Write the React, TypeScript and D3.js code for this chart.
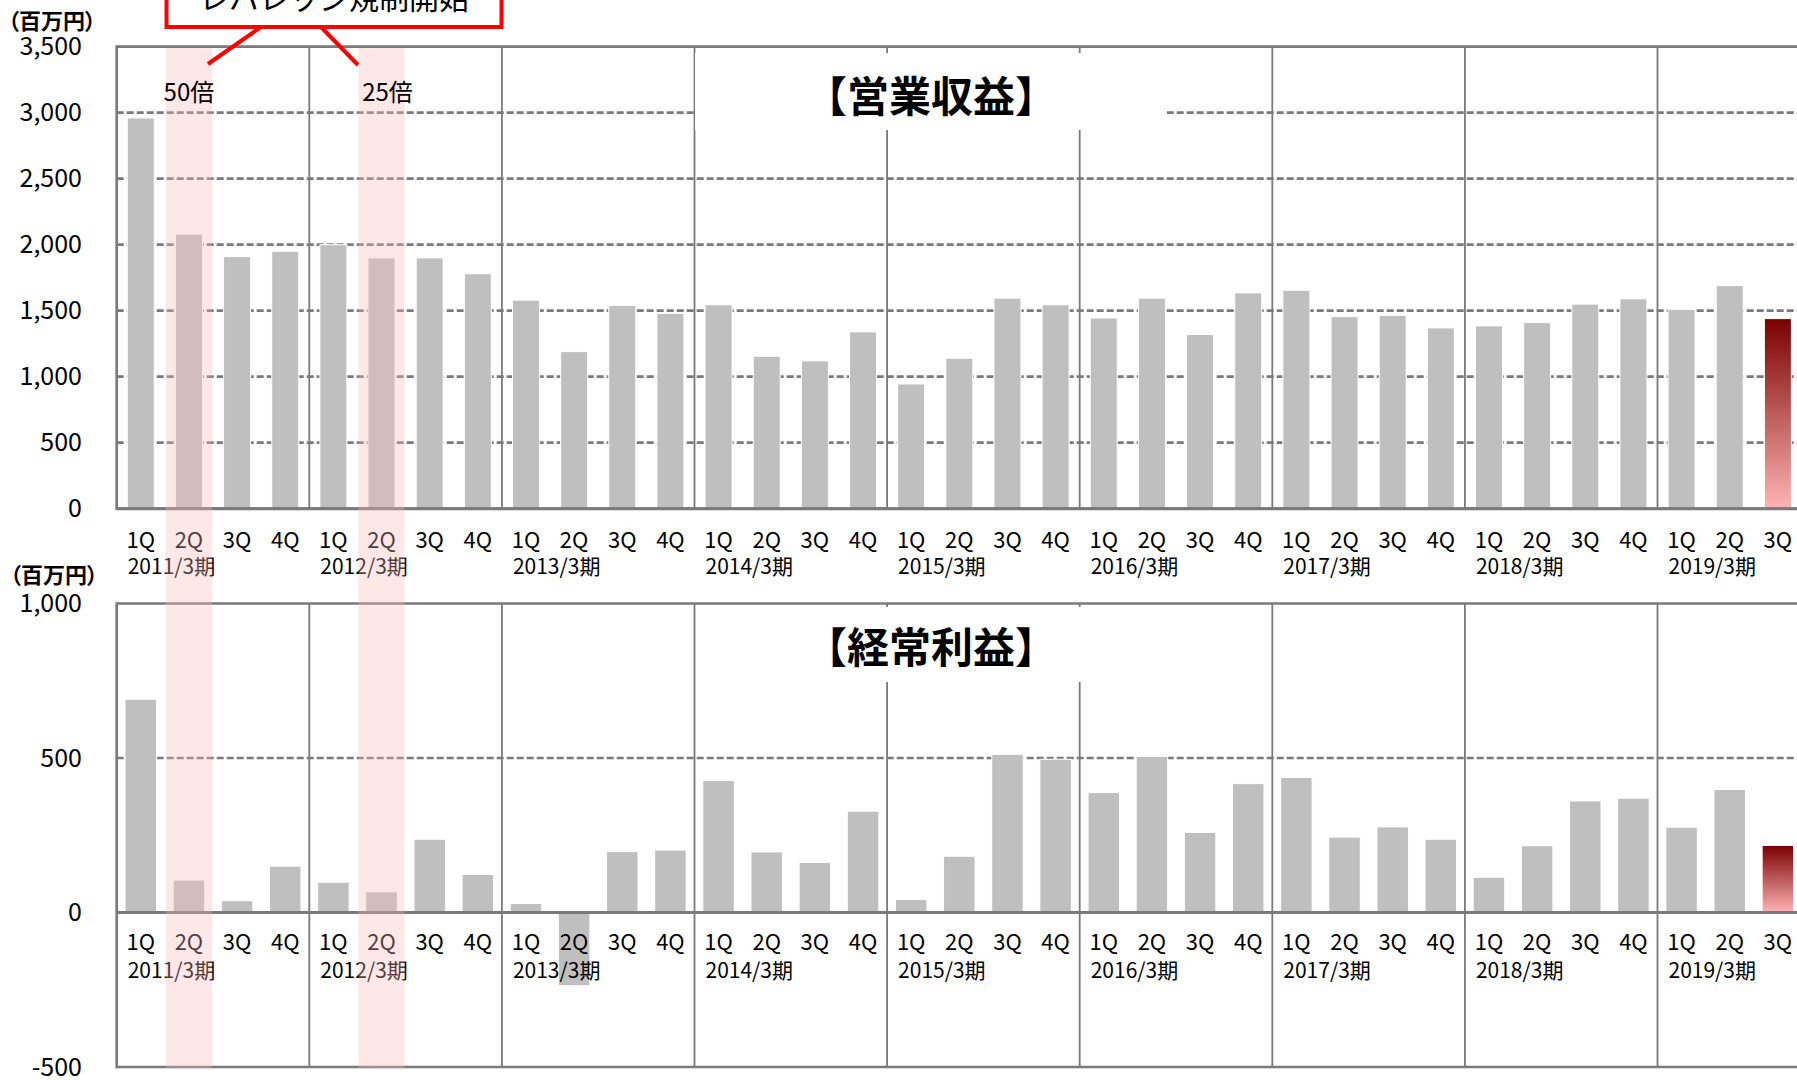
import React from 'react';
import * as d3 from 'd3';

const years = ['2011/3期', '2012/3期', '2013/3期', '2014/3期', '2015/3期', '2016/3期', '2017/3期', '2018/3期', '2019/3期'];
const quarters = ['1Q', '2Q', '3Q', '4Q'];

// 営業収益 (百万円)
const revenue = [
  2960, 2080, 1910, 1950,
  2000, 1900, 1900, 1780,
  1580, 1190, 1540, 1480,
  1545, 1155, 1120, 1340,
  945, 1140, 1595, 1545,
  1445, 1595, 1320, 1635,
  1655, 1455, 1465, 1370,
  1385, 1410, 1550, 1590,
  1510, 1690, 1440,
];

// 経常利益 (百万円)
const ordinary = [
  690, 105, 38, 150,
  98, 67, 237, 123,
  29, -237, 197, 202,
  427, 196, 162, 328,
  42, 182, 512, 496,
  388, 505, 259, 417,
  437, 244, 277, 237,
  114, 216, 361, 370,
  276, 398, 217,
];

const revenueTicks = [0, 500, 1000, 1500, 2000, 2500, 3000, 3500];
const ordinaryTicks = [-500, 0, 500, 1000];
const highlightIdx = [1, 5];
const highlightLabels = ['50倍', '25倍'];
const calloutText = 'レバレッジ規制開始';
const unitLabel = '（百万円）';
const titleTop = '【営業収益】';
const titleBottom = '【経常利益】';

const W = 1797;
const H = 1080;
const FONT = '"Noto Sans CJK JP", "Noto Sans", sans-serif';
const GRID = '#7A7A7A';
const BAR = '#BFBFBF';

const fmt = d3.formatLocale({ decimal: '.', thousands: ',', grouping: [3], currency: ['', ''], minus: '-' }).format(',');

export default function App() {
  const nSlots = years.length * 4;
  const slotKeys = d3.range(nSlots).map(String);
  const left = 116.7;
  const step = 48.15;
  const x = d3.scaleBand<string>().domain(slotKeys).range([left, left + nSlots * step]).padding(0);
  const cx = (i: number) => (x(String(i)) as number) + x.bandwidth() / 2;

  const yTop = d3.scaleLinear().domain([0, 3500]).range([508.7, 46.7]);
  const yBot = d3.scaleLinear().domain([-500, 1000]).range([1067, 603.5]);

  const topBarW = 27;
  const botBarW = 31.5;
  const lastIdx = revenue.length - 1;

  const renderPanel = (
    key: string,
    y: d3.ScaleLinear<number, number>,
    values: number[],
    ticks: number[],
    gridTicks: number[],
    barW: number,
    qLabelY: number,
    yearLabelY: number,
    title: string,
    titleY: number,
    box: [number, number, number, number],
  ) => {
    const [d0, d1] = y.domain();
    const yTopEdge = y(d1);
    const yBottomEdge = y(d0);
    const y0 = y(0);
    return (
      <g key={key}>
        {gridTicks.map((t) => (
          <line key={'g' + t} x1={left} x2={W} y1={y(t)} y2={y(t)} stroke={GRID} strokeWidth={2.7} strokeDasharray="7,3" />
        ))}
        {years.map((_, yi) =>
          yi === 0 ? null : (
            <line key={'d' + yi} x1={x(String(yi * 4))} x2={x(String(yi * 4))} y1={yTopEdge} y2={yBottomEdge} stroke={GRID} strokeWidth={1.8} />
          ),
        )}
        <rect x={box[0]} y={box[1]} width={box[2]} height={box[3]} fill="#fff" />
        <text x={931} y={titleY} textAnchor="middle" dominantBaseline="central" fontFamily={FONT} fontSize={42} fontWeight={700} fill="#000">
          {title}
        </text>
        {values.map((v, i) => (
          <rect
            key={'b' + i}
            x={cx(i) - barW / 2}
            y={Math.min(y(v), y0)}
            width={barW}
            height={Math.abs(y(v) - y0)}
            fill={i === lastIdx ? `url(#redGrad)` : BAR}
            stroke="#fff"
            strokeWidth={1}
          />
        ))}
        <line x1={left} x2={W} y1={yTopEdge} y2={yTopEdge} stroke={GRID} strokeWidth={2.7} />
        <line x1={left} x2={W} y1={yBottomEdge} y2={yBottomEdge} stroke={GRID} strokeWidth={2.7} />
        <line x1={left} x2={W} y1={y0} y2={y0} stroke={GRID} strokeWidth={3} />
        <line x1={left} x2={left} y1={yTopEdge - 1.3} y2={yBottomEdge + 1.3} stroke={GRID} strokeWidth={2.7} />
        {ticks.map((t) => (
          <text key={'t' + t} x={82} y={y(t) - 2.5} textAnchor="end" dominantBaseline="central" fontFamily={FONT} fontSize={25} fill="#000">
            {fmt(t)}
          </text>
        ))}
        {slotKeys.map((k, i) =>
          i <= lastIdx ? (
            <text key={'q' + i} x={cx(i)} y={qLabelY} textAnchor="middle" dominantBaseline="central" fontFamily={FONT} fontSize={22} fill="#000">
              {quarters[i % 4]}
            </text>
          ) : null,
        )}
        {years.map((yr, yi) => (
          <text key={'y' + yi} x={(x(String(yi * 4)) as number) + 11} y={yearLabelY} textAnchor="start" dominantBaseline="central" fontFamily={FONT} fontSize={21} fill="#000">
            {yr}
          </text>
        ))}
      </g>
    );
  };

  return (
    <svg width={W} height={H} style={{ position: 'absolute', left: 0, top: 0, background: '#fff' }} xmlns="http://www.w3.org/2000/svg">
      <defs>
        <linearGradient id="redGrad" x1="0" y1="0" x2="0" y2="1">
          <stop offset="0" stopColor="#7A0000" />
          <stop offset="1" stopColor="#FFB4B4" />
        </linearGradient>
      </defs>
      <rect x={0} y={0} width={W} height={H} fill="#fff" />

      {renderPanel('top', yTop, revenue, revenueTicks, [500, 1000, 1500, 2000, 2500, 3000], topBarW, 538, 564.5, titleTop, 93, [695, 53, 472, 77])}
      {renderPanel('bot', yBot, ordinary, ordinaryTicks, [500], botBarW, 939.5, 968.5, titleBottom, 644, [760, 607, 400, 75])}

      <text x={8} y={19} dominantBaseline="central" fontFamily={FONT} fontSize={22} fontWeight={700} fill="#000" style={{ fontFeatureSettings: '"palt"' }}>
        {unitLabel}
      </text>
      <text x={10} y={573} dominantBaseline="central" fontFamily={FONT} fontSize={22} fontWeight={700} fill="#000" style={{ fontFeatureSettings: '"palt"' }}>
        {unitLabel}
      </text>

      {highlightIdx.map((i) => (
        <rect key={'h' + i} x={cx(i) - 23} y={yTop(3500) + 1.5} width={46} height={yBot(-500) - yTop(3500)} fill="rgb(249,182,182)" fillOpacity={0.33} />
      ))}

      {highlightIdx.map((i, k) => (
        <text key={'hl' + i} x={cx(i) + (k === 0 ? 0 : 6)} y={90} textAnchor="middle" dominantBaseline="central" fontFamily={FONT} fontSize={24} fill="#000">
          {highlightLabels[k]}
        </text>
      ))}

      <rect x={166.5} y={-25} width={335} height={52} fill="#fff" stroke="#FF0000" strokeWidth={4} />
      <text x={334} y={9} textAnchor="middle" fontFamily={FONT} fontSize={30} fill="#000">
        {calloutText}
      </text>
      <line x1={261} y1={27} x2={208} y2={64} stroke="#FF0000" strokeWidth={4} />
      <line x1={321} y1={27} x2={358} y2={65} stroke="#FF0000" strokeWidth={4} />
    </svg>
  );
}
